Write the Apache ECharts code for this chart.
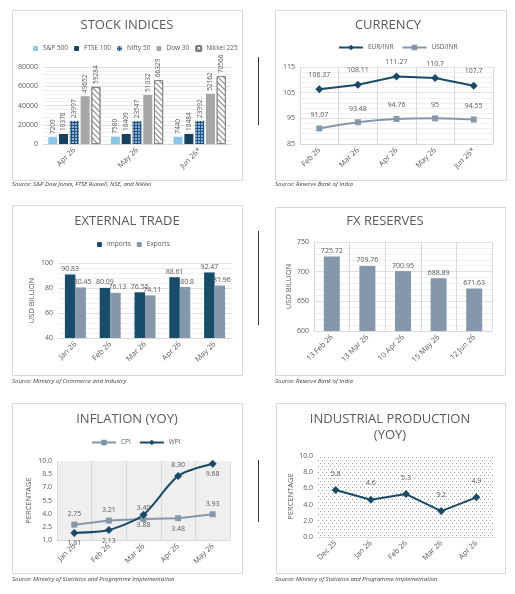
<!DOCTYPE html>
<html>
<head>
<meta charset="utf-8">
<script src="https://cdn.jsdelivr.net/npm/echarts@6/dist/echarts.min.js"></script>
<style>
  html, body { margin: 0; padding: 0; background: #fff; }
  #main { width: 515px; height: 594px; }
</style>
</head>
<body>
<div id="main"></div>
<script>
// ---- data ----
var stockCats = ['Apr 26', 'May 26', 'Jun 26*'];
var sp500 = [7209, 7580, 7440];
var ftse100 = [10378, 10409, 10484];
var nifty50 = [23997, 23547, 23992];
var dow30 = [49652, 51032, 52162];
var nikkei225 = [59284, 66329, 70566];

var fxCats = ['Feb 26', 'Mar 26', 'Apr 26', 'May 26', 'Jun 26*'];
var eurInr = [106.37, 108.11, 111.27, 110.7, 107.7];
var usdInr = [91.07, 93.48, 94.76, 95, 94.55];

var tradeCats = ['Jan 26', 'Feb 26', 'Mar 26', 'Apr 26', 'May 26'];
var tradeImports = [90.83, 80.09, 76.55, 88.61, 92.47];
var tradeExports = [80.45, 76.13, 74.11, 80.8, 81.96];

var resCats = ['13 Feb 26', '13 Mar 26', '10 Apr 26', '15 May 26', '12 Jun 26'];
var reserves = [725.72, 709.76, 700.95, 688.89, 671.63];

var inflCats = ['Jan 26', 'Feb 26', 'Mar 26', 'Apr 26', 'May 26'];
var cpi = [2.75, 3.21, 3.40, 3.48, 3.93];
var wpi = [1.81, 2.13, 3.88, 8.30, 9.68];
// where each point label sits (style only)
var cpiLabelPos = ['top', 'top', 'top', 'bottom', 'top'];
var wpiLabelPos = ['bottom', 'bottom', 'bottom', 'top', 'bottom'];

var iipCats = ['Dec 25', 'Jan 26', 'Feb 26', 'Mar 26', 'Apr 26'];
var iip = [5.8, 4.6, 5.3, 3.2, 4.9];

// ---- style helpers ----
var font = 'Open Sans';
var gray = '#595959';
var navy = '#1b4a68';
var slate = '#8497ab';

var myChart = echarts.init(document.getElementById('main'));

// dotted background for the industrial production plot
var dotCanvas = document.createElement('canvas');
dotCanvas.width = 4; dotCanvas.height = 6;
var dctx = dotCanvas.getContext('2d');
dctx.fillStyle = '#ffffff'; dctx.fillRect(0, 0, 4, 6);
dctx.fillStyle = '#a0a0a0';
dctx.fillRect(0, 1, 1, 1);
dctx.fillRect(2, 4, 1, 1);

function catAxis(idx, data, split) {
  return {
    type: 'category', gridIndex: idx, data: data,
    axisLine: { lineStyle: { color: '#d9d9d9' } },
    axisTick: { show: false },
    axisLabel: { interval: 0, rotate: 45, fontSize: 7.5, color: gray, margin: 5 },
    splitLine: { show: !!split, lineStyle: { color: '#d0d0d0', width: 0.8 } }
  };
}

function valAxis(idx, min, max, interval, extra) {
  var ax = {
    type: 'value', gridIndex: idx, min: min, max: max, interval: interval,
    axisLine: { show: false }, axisTick: { show: false },
    axisLabel: { fontSize: 7, color: gray, margin: 5, formatter: function (v) { return String(v); } },
    splitLine: { show: true, lineStyle: { color: '#d9d9d9', width: 0.8 } },
    minorTick: { show: false, splitNumber: 5 },
    minorSplitLine: { show: true, lineStyle: { color: '#e8e8e8', width: 0.6 } }
  };
  return Object.assign(ax, extra || {});
}

function lbl(extra) {
  return Object.assign({ show: true, fontSize: 7, color: gray }, extra || {});
}

function stockBar(name, data, style) {
  return {
    name: name, type: 'bar', xAxisIndex: 0, yAxisIndex: 0, data: data,
    barWidth: 9, barGap: '20%', itemStyle: style,
    label: lbl({ position: 'top', rotate: 90, align: 'left', verticalAlign: 'middle', distance: 3, fontSize: 6.5 })
  };
}

function frame(x, y, w, h) {
  return { type: 'rect', shape: { x: x, y: y, width: w, height: h }, silent: true,
    style: { fill: 'none', stroke: '#d9d9d9', lineWidth: 1 } };
}
function divider(y1, y2) {
  return { type: 'line', shape: { x1: 258.5, y1: y1, x2: 258.5, y2: y2 }, silent: true,
    style: { stroke: '#333', lineWidth: 1 } };
}
function source(x, y, txt) {
  return { type: 'text', x: x, y: y, silent: true,
    style: { text: txt, fontSize: 6, fontStyle: 'italic', fill: '#404040', fontFamily: font } };
}
function heading(x, y, txt) {
  return { type: 'text', x: x, y: y, silent: true,
    style: { text: txt, fontSize: 13, fill: gray, fontFamily: font, align: 'center', verticalAlign: 'middle', lineHeight: 16 } };
}

var legendBase = { itemGap: 6, itemWidth: 5, itemHeight: 5, textStyle: { fontSize: 6.5, color: gray }, padding: 0 };
var pctAxisExtra = {
  nameLocation: 'middle', nameRotate: 90, name: 'PERCENTAGE',
  nameTextStyle: { fontSize: 7.5, color: gray },
  splitLine: { show: false }, minorSplitLine: { show: false },
  axisLabel: { fontSize: 7, color: gray, margin: 5, formatter: function (v) { return v.toFixed(1); } }
};

var option = {
  animation: false,
  textStyle: { fontFamily: font },
  graphic: [
    frame(12.5, 10.5, 230, 170),
    frame(275.5, 10.5, 231, 170),
    frame(12.5, 205.5, 230, 170),
    frame(275.5, 207.5, 230, 168),
    frame(12.5, 403.5, 230, 170),
    frame(276.5, 403.5, 229, 170),
    divider(57, 125),
    divider(231, 325),
    divider(460, 522),
    heading(127, 25, 'STOCK INDICES'),
    heading(388, 25, 'CURRENCY'),
    heading(127, 221, 'EXTERNAL TRADE'),
    heading(385, 221, 'FX RESERVES'),
    heading(127, 419, 'INFLATION (YOY)'),
    heading(390, 427, 'INDUSTRIAL PRODUCTION\n(YOY)'),
    source(12, 181, 'Source: S&P Dow Jones, FTSE Russell, NSE, and Nikkei'),
    source(275, 181, 'Source: Reserve Bank of India'),
    source(12, 378, 'Source: Ministry of Commerce and Industry'),
    source(275, 378, 'Source: Reserve Bank of India'),
    source(12, 576, 'Source: Ministry of Statistics and Programme Implementation'),
    source(275, 576, 'Source: Ministry of Statistics and Programme Implementation')
  ],
  legend: [
    Object.assign({}, legendBase, { left: 33, top: 45, data: ['S&P 500', 'FTSE 100', 'Nifty 50', 'Dow 30', 'Nikkei 225'] }),
    Object.assign({}, legendBase, { left: 338, top: 44, itemWidth: 24, itemHeight: 7, itemGap: 8, data: ['EUR/INR', 'USD/INR'] }),
    Object.assign({}, legendBase, { left: 97, top: 241, data: ['Imports', 'Exports'] }),
    Object.assign({}, legendBase, { left: 91, top: 439, itemWidth: 24, itemHeight: 7, itemGap: 8, data: ['CPI', 'WPI'] })
  ],
  grid: [
    { left: 43, right: 284, top: 67, bottom: 450 },
    { left: 300, right: 22, top: 67, bottom: 450 },
    { left: 58, right: 283, top: 263, bottom: 256 },
    { left: 314, right: 23, top: 242, bottom: 263 },
    { left: 57, right: 285, top: 461, bottom: 54, show: true, backgroundColor: '#efefef', borderWidth: 0 },
    { left: 318, right: 21, top: 456, bottom: 57, show: true, borderWidth: 0,
      backgroundColor: { image: dotCanvas, repeat: 'repeat' } }
  ],
  xAxis: [
    catAxis(0, stockCats, false),
    catAxis(1, fxCats, true),
    catAxis(2, tradeCats, false),
    catAxis(3, resCats, true),
    catAxis(4, inflCats, true),
    catAxis(5, iipCats, false)
  ],
  yAxis: [
    valAxis(0, 0, 80000, 20000),
    valAxis(1, 85, 115, 10),
    valAxis(2, 40, 100, 20, {
      name: 'USD BILLION', nameLocation: 'middle', nameGap: 22, nameRotate: 90,
      nameTextStyle: { fontSize: 7.5, color: gray } }),
    valAxis(3, 600, 750, 50, {
      name: 'USD BILLION', nameLocation: 'middle', nameGap: 19, nameRotate: 90,
      nameTextStyle: { fontSize: 7.5, color: gray } }),
    valAxis(4, 1, 10, 1.5, Object.assign({ nameGap: 24 }, pctAxisExtra)),
    valAxis(5, 0, 10, 2, Object.assign({ nameGap: 22 }, pctAxisExtra))
  ],
  series: [
    stockBar('S&P 500', sp500, { color: '#8cc6e6' }),
    stockBar('FTSE 100', ftse100, { color: '#16405e' }),
    stockBar('Nifty 50', nifty50, { color: '#1f5689',
      decal: { symbol: 'rect', symbolSize: 0.7, color: '#ffffff', dashArrayX: [2, 1], dashArrayY: [2, 1] } }),
    stockBar('Dow 30', dow30, { color: '#a6a6a6' }),
    stockBar('Nikkei 225', nikkei225, { color: '#ffffff', borderColor: '#7f7f7f', borderWidth: 0.8,
      decal: { symbol: 'rect', symbolSize: 1, color: '#7f7f7f', dashArrayX: [1, 0], dashArrayY: [1, 3], rotation: Math.PI / 4 } }),

    { name: 'EUR/INR', type: 'line', xAxisIndex: 1, yAxisIndex: 1, data: eurInr,
      symbol: 'diamond', symbolSize: 8, color: navy, lineStyle: { width: 2, color: navy },
      label: lbl({ position: 'top', distance: 7 }) },
    { name: 'USD/INR', type: 'line', xAxisIndex: 1, yAxisIndex: 1, data: usdInr, smooth: 0.3,
      symbol: 'rect', symbolSize: 6, color: slate, lineStyle: { width: 2, color: slate },
      label: lbl({ position: 'top', distance: 7 }) },

    { name: 'Imports', type: 'bar', xAxisIndex: 2, yAxisIndex: 2, data: tradeImports,
      barWidth: 10.5, barGap: '0%', itemStyle: { color: '#174c6b' },
      label: lbl({ position: 'top', distance: 2 }) },
    { name: 'Exports', type: 'bar', xAxisIndex: 2, yAxisIndex: 2, data: tradeExports, z: 3,
      barWidth: 10.5, barGap: '0%', itemStyle: { color: slate },
      label: lbl({ position: 'top', distance: 2, offset: [2, 0] }) },

    { name: 'FX Reserves', type: 'bar', xAxisIndex: 3, yAxisIndex: 3, data: reserves,
      barWidth: 16, itemStyle: { color: slate },
      label: lbl({ position: 'top', distance: 2 }) },

    { name: 'CPI', type: 'line', xAxisIndex: 4, yAxisIndex: 4,
      data: cpi.map(function (v, i) { return { value: v, label: { position: cpiLabelPos[i] } }; }),
      symbol: 'rect', symbolSize: 6, color: slate, lineStyle: { width: 2, color: slate },
      label: lbl({ distance: 4, formatter: function (p) { return p.value.toFixed(2); } }) },
    { name: 'WPI', type: 'line', xAxisIndex: 4, yAxisIndex: 4, smooth: 0.25,
      data: wpi.map(function (v, i) { return { value: v, label: { position: wpiLabelPos[i] } }; }),
      symbol: 'diamond', symbolSize: 8, color: navy, lineStyle: { width: 2, color: navy },
      label: lbl({ distance: 3, formatter: function (p) { return p.value.toFixed(2); } }) },

    { name: 'IIP', type: 'line', xAxisIndex: 5, yAxisIndex: 5, data: iip,
      symbol: 'diamond', symbolSize: 8, color: navy, lineStyle: { width: 2, color: navy },
      label: lbl({ position: 'top', distance: 9, formatter: function (p) { return p.value.toFixed(1); } }) }
  ]
};

myChart.setOption(option);
</script>
</body>
</html>
